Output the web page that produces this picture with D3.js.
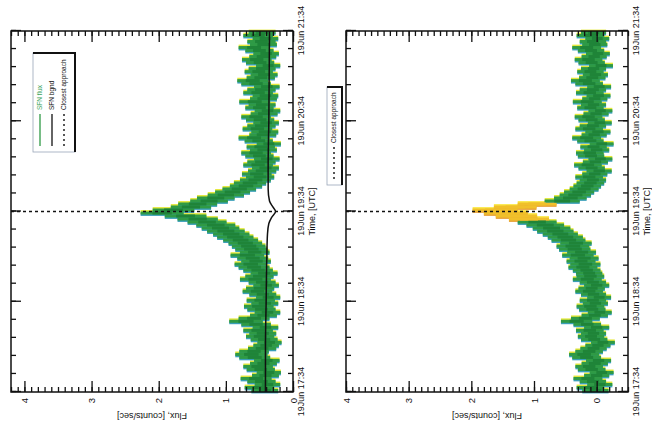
<!DOCTYPE html>
<html>
<head>
<meta charset="utf-8">
<script src="https://cdn.jsdelivr.net/npm/d3@7"></script>
<style>
  html, body { margin: 0; padding: 0; background: #fff; }
  svg { display: block; font-family: "Liberation Sans", Arial, Helvetica, sans-serif; }
</style>
</head>
<body>
<svg id="chart" width="652" height="430"></svg>
<script>
// ---- Data: SFN count rate, 2-minute bins from 19 Jun 17:34 UTC ----
const binMinutes = 2;
const timeTickMinutes = [0, 60, 120, 180, 240];
const timeTickLabels = ["19Jun 17:34", "19Jun 18:34", "19Jun 19:34", "19Jun 20:34", "19Jun 21:34"];
const fluxTickValues = [0, 1, 2, 3, 4];
const fluxTickLabels = ["0", "1", "2", "3", "4"];
const closestApproachMinute = 120;

// Raw SFN flux (counts/sec) and 1-sigma errors
const sfnFlux = [
  0.42, 0.50, 0.38, 0.47, 0.55, 0.41, 0.36, 0.48, 0.52, 0.44,
  0.39, 0.57, 0.62, 0.58, 0.46, 0.40, 0.35, 0.43, 0.49, 0.45,
  0.52, 0.41, 0.55, 0.70, 0.58, 0.44, 0.38, 0.47, 0.51, 0.42,
  0.48, 0.37, 0.45, 0.53, 0.49, 0.40, 0.46, 0.56, 0.50, 0.43,
  0.52, 0.58, 0.63, 0.55, 0.60, 0.68, 0.57, 0.62, 0.66, 0.71,
  0.78, 0.86, 0.92, 1.00, 1.08, 1.15, 1.28, 1.42, 1.60, 1.95,
  1.78, 1.52, 1.42, 1.25, 1.15, 1.00, 0.90, 0.80, 0.70, 0.64,
  0.56, 0.49, 0.54, 0.46, 0.41, 0.52, 0.47, 0.39, 0.50, 0.55,
  0.44, 0.48, 0.36, 0.51, 0.58, 0.45, 0.42, 0.53, 0.47, 0.40,
  0.49, 0.55, 0.43, 0.38, 0.50, 0.46, 0.57, 0.44, 0.41, 0.52,
  0.47, 0.39, 0.55, 0.60, 0.48, 0.43, 0.51, 0.46, 0.37, 0.49,
  0.54, 0.45, 0.40, 0.50, 0.58, 0.44, 0.47, 0.41, 0.52, 0.46
];
const sfnFluxErr = [
  0.20, 0.22, 0.19, 0.21, 0.23, 0.20, 0.18, 0.21, 0.22, 0.20,
  0.19, 0.23, 0.24, 0.22, 0.21, 0.19, 0.18, 0.20, 0.21, 0.20,
  0.22, 0.19, 0.22, 0.25, 0.23, 0.20, 0.19, 0.21, 0.22, 0.20,
  0.21, 0.18, 0.20, 0.22, 0.21, 0.19, 0.20, 0.23, 0.21, 0.20,
  0.22, 0.23, 0.24, 0.22, 0.23, 0.25, 0.22, 0.24, 0.25, 0.25,
  0.26, 0.27, 0.27, 0.28, 0.28, 0.29, 0.29, 0.30, 0.31, 0.32,
  0.31, 0.30, 0.29, 0.28, 0.28, 0.27, 0.26, 0.25, 0.24, 0.24,
  0.23, 0.21, 0.22, 0.21, 0.20, 0.22, 0.21, 0.19, 0.21, 0.22,
  0.20, 0.21, 0.18, 0.21, 0.23, 0.20, 0.20, 0.22, 0.21, 0.19,
  0.21, 0.22, 0.20, 0.19, 0.21, 0.20, 0.23, 0.20, 0.19, 0.22,
  0.21, 0.19, 0.22, 0.23, 0.21, 0.20, 0.21, 0.20, 0.18, 0.21,
  0.22, 0.20, 0.19, 0.21, 0.23, 0.20, 0.21, 0.19, 0.22, 0.20
];

// Modelled SFN background (counts/sec) at selected minutes
const sfnBgndMinute = [0, 30, 60, 90, 105, 112, 116, 120, 123, 127, 135, 150, 180, 240];
const sfnBgnd = [0.41, 0.41, 0.40, 0.39, 0.38, 0.36, 0.32, 0.26, 0.30, 0.35, 0.37, 0.37, 0.36, 0.35];

// Background-subtracted SFN flux (counts/sec) and errors
const netFlux = [
  0.02, 0.10, -0.05, 0.06, 0.14, 0.00, -0.08, 0.08, 0.12, 0.03,
  -0.03, 0.16, 0.20, 0.12, 0.05, -0.02, -0.10, 0.04, 0.09, 0.05,
  0.11, 0.00, 0.15, 0.32, 0.18, 0.03, -0.05, 0.07, 0.10, 0.02,
  0.06, -0.04, 0.05, 0.12, 0.08, 0.00, 0.06, 0.15, 0.10, 0.12,
  0.16, 0.22, 0.18, 0.25, 0.20, 0.30, 0.24, 0.35, 0.38, 0.33,
  0.45, 0.50, 0.58, 0.66, 0.72, 0.82, 0.95, 1.08, 1.28, 1.45,
  1.62, 1.30, 0.95, 0.55, 0.42, 0.34, 0.28, 0.20, 0.15, 0.10,
  0.06, 0.12, 0.03, -0.04, 0.08, 0.14, 0.02, -0.06, 0.09, 0.11,
  0.00, 0.05, -0.08, 0.10, 0.16, 0.04, -0.02, 0.12, 0.06, -0.05,
  0.08, 0.13, 0.01, -0.06, 0.10, 0.05, 0.15, 0.03, -0.03, 0.11,
  0.06, -0.04, 0.12, 0.18, 0.07, 0.02, 0.10, 0.05, -0.07, 0.08,
  0.13, 0.04, -0.02, 0.09, 0.16, 0.03, 0.06, -0.01, 0.10, 0.05
];
const netFluxErr = [
  0.21, 0.22, 0.20, 0.21, 0.23, 0.20, 0.19, 0.22, 0.22, 0.21,
  0.20, 0.23, 0.24, 0.22, 0.21, 0.20, 0.19, 0.21, 0.21, 0.20,
  0.22, 0.20, 0.22, 0.25, 0.23, 0.21, 0.19, 0.21, 0.22, 0.20,
  0.21, 0.19, 0.20, 0.22, 0.21, 0.20, 0.21, 0.23, 0.22, 0.21,
  0.22, 0.23, 0.24, 0.23, 0.23, 0.25, 0.23, 0.25, 0.26, 0.25,
  0.27, 0.28, 0.28, 0.29, 0.30, 0.30, 0.31, 0.32, 0.33, 0.35,
  0.36, 0.34, 0.31, 0.28, 0.26, 0.25, 0.24, 0.23, 0.22, 0.22,
  0.21, 0.22, 0.20, 0.20, 0.21, 0.22, 0.20, 0.19, 0.21, 0.22,
  0.20, 0.21, 0.19, 0.21, 0.23, 0.20, 0.20, 0.22, 0.21, 0.19,
  0.21, 0.22, 0.20, 0.19, 0.21, 0.20, 0.23, 0.20, 0.19, 0.22,
  0.21, 0.19, 0.22, 0.23, 0.21, 0.20, 0.21, 0.20, 0.19, 0.21,
  0.22, 0.20, 0.19, 0.21, 0.23, 0.20, 0.21, 0.19, 0.22, 0.20
];
// Net-flux bins around closest approach (minutes) drawn in gold
const peakWindowMinutes = [114, 126];

// ---- Layout ----
const svg = d3.select("#chart");
const plotTop = 31, plotBottom = 392;
const timeLen = plotBottom - plotTop;

const colors = {
  green: "#2f9a45", greenDark: "#1f8438",
  fringeA: "#e4e83a", fringeB: "#3a9fb8",
  gold: "#f0c02a", goldA: "#fbe94a", goldB: "#e8a23a"
};

function drawPanel(cfg) {
  const fluxLen = cfg.right - cfg.left;
  // Whole panel is drawn with time along the local x axis, then turned a quarter turn
  const g = svg.append("g")
    .attr("transform", `translate(${cfg.left},${plotBottom}) rotate(-90)`);

  const x = d3.scaleLinear().domain([0, 240]).range([0, timeLen]);
  const y = d3.scaleLinear().domain(cfg.fluxDomain).range([fluxLen, 0]);

  const bins = cfg.values.map((v, i) => ({
    t0: i * binMinutes, t1: (i + 1) * binMinutes, v, e: cfg.errors[i]
  }));
  const inPeak = d => cfg.peakWindow && d.t0 >= cfg.peakWindow[0] && d.t1 <= cfg.peakWindow[1];

  const bars = g.append("g");
  const layer = (cls, dx, scaleE, fillFn) => {
    bars.selectAll("rect." + cls).data(bins).join("rect")
      .attr("class", cls)
      .attr("x", d => x(d.t0) + dx)
      .attr("width", d => x(d.t1) - x(d.t0))
      .attr("y", d => y(d.v + d.e * scaleE))
      .attr("height", d => y(d.v - d.e * scaleE) - y(d.v + d.e * scaleE))
      .attr("fill", fillFn);
  };
  layer("fa", 1.4, 1.0, d => inPeak(d) ? colors.goldA : colors.fringeA);
  layer("fb", -1.4, 1.0, d => inPeak(d) ? colors.goldB : colors.fringeB);
  layer("core", 0, 1.0, d => inPeak(d) ? colors.gold : colors.green);
  layer("inner", 0, 0.45, d => inPeak(d) ? colors.gold : colors.greenDark);

  // background model
  if (cfg.bgnd) {
    const line = d3.line()
      .x((d, i) => x(sfnBgndMinute[i]))
      .y(d => y(d))
      .curve(d3.curveMonotoneX);
    g.append("path").datum(sfnBgnd)
      .attr("d", line).attr("fill", "none")
      .attr("stroke", "#111").attr("stroke-width", 1.5);
  }

  // closest approach marker
  g.append("line")
    .attr("x1", x(closestApproachMinute)).attr("x2", x(closestApproachMinute))
    .attr("y1", 0).attr("y2", fluxLen)
    .attr("stroke", "#111").attr("stroke-width", 1.6)
    .attr("stroke-dasharray", "3,3");

  // ---- axes ----
  const minorTime = d3.range(0, 241, 12);
  const minorFlux = d3.range(Math.round(cfg.fluxDomain[0] * 10), Math.round(cfg.fluxDomain[1] * 10) + 1).map(k => k / 10);

  const styleAxis = sel => {
    sel.select(".domain").remove();
    sel.selectAll("line").attr("stroke", "#111").attr("stroke-width", 1.3);
  };

  // time axis along the zero-flux edge (with labels) and the opposite edge
  g.append("g").attr("transform", `translate(0,${fluxLen})`)
    .call(d3.axisBottom(x).tickValues(minorTime).tickSize(-5).tickFormat(""))
    .call(styleAxis);
  const tAxis = g.append("g").attr("transform", `translate(0,${fluxLen})`)
    .call(d3.axisBottom(x).tickValues(timeTickMinutes).tickSize(-10).tickPadding(5)
      .tickFormat((d, i) => timeTickLabels[i]))
    .call(styleAxis);
  tAxis.selectAll("text").attr("font-size", 9).attr("fill", "#111").attr("font-family", null);

  g.append("g")
    .call(d3.axisTop(x).tickValues(minorTime).tickSize(-5).tickFormat(""))
    .call(styleAxis);
  g.append("g")
    .call(d3.axisTop(x).tickValues(timeTickMinutes).tickSize(-10).tickFormat(""))
    .call(styleAxis);

  // flux axis along the start-time edge (with labels) and the end-time edge
  g.append("g")
    .call(d3.axisLeft(y).tickValues(minorFlux).tickSize(-5).tickFormat(""))
    .call(styleAxis);
  const fAxis = g.append("g")
    .call(d3.axisLeft(y).tickValues(fluxTickValues).tickSize(-11).tickPadding(6)
      .tickFormat((d, i) => fluxTickLabels[i]))
    .call(styleAxis);
  fAxis.selectAll("text").attr("font-size", 9.5).attr("fill", "#111").attr("font-family", null);

  g.append("g").attr("transform", `translate(${timeLen},0)`)
    .call(d3.axisRight(y).tickValues(minorFlux).tickSize(-5).tickFormat(""))
    .call(styleAxis);
  g.append("g").attr("transform", `translate(${timeLen},0)`)
    .call(d3.axisRight(y).tickValues(fluxTickValues).tickSize(-11).tickFormat(""))
    .call(styleAxis);

  // frame
  g.append("rect")
    .attr("x", 0).attr("y", 0).attr("width", timeLen).attr("height", fluxLen)
    .attr("fill", "none").attr("stroke", "#111").attr("stroke-width", 1.5);

  // axis titles
  g.append("text")
    .attr("x", x(closestApproachMinute)).attr("y", fluxLen + 22)
    .attr("text-anchor", "middle").attr("font-size", 9).attr("fill", "#111")
    .text("Time, [UTC]");
  g.append("text")
    .attr("transform", `translate(-21,${fluxLen / 2}) rotate(-90)`)
    .attr("text-anchor", "middle").attr("font-size", 9).attr("fill", "#111")
    .text("Flux, [counts/sec]");

  // legend box with drop shadow
  const lg = cfg.legend;
  const box = g.append("g");
  box.append("rect")
    .attr("x", lg.x0).attr("y", lg.y0)
    .attr("width", lg.x1 - lg.x0).attr("height", lg.y1 - lg.y0)
    .attr("fill", "#fff").attr("stroke", "#9aa6b8").attr("stroke-width", 0.8);
  box.append("path")
    .attr("d", `M${lg.x0},${lg.y1} L${lg.x1},${lg.y1} L${lg.x1},${lg.y0}`)
    .attr("fill", "none").attr("stroke", "#111").attr("stroke-width", 2);

  lg.entries.forEach(en => {
    box.append("line")
      .attr("x1", lg.lineStart).attr("x2", lg.lineStart + 32)
      .attr("y1", en.row).attr("y2", en.row)
      .attr("stroke", en.stroke).attr("stroke-width", en.dash ? 1.4 : 1.3)
      .attr("stroke-dasharray", en.dash ? "2,3" : null);
    box.append("text")
      .attr("x", lg.lineStart + 36).attr("y", en.row).attr("dy", "0.35em")
      .attr("font-size", 6.5).attr("fill", en.textColor)
      .text(en.label);
  });
}

drawPanel({
  left: 11, right: 293,
  fluxDomain: [0, 4.2],
  values: sfnFlux, errors: sfnFluxErr,
  bgnd: true, peakWindow: null,
  legend: {
    x0: 240, x1: 339, y0: 22, y1: 64, lineStart: 246,
    entries: [
      { label: "SFN flux", row: 29, stroke: colors.green, textColor: "#3aa35a" },
      { label: "SFN bgnd", row: 41, stroke: "#111", textColor: "#111" },
      { label: "Closest approach", row: 53, stroke: "#111", textColor: "#111", dash: true }
    ]
  }
});

drawPanel({
  left: 346, right: 628,
  fluxDomain: [-0.5, 4.0],
  values: netFlux, errors: netFluxErr,
  bgnd: false, peakWindow: peakWindowMinutes,
  legend: {
    x0: 207, x1: 305, y0: -19, y1: -4, lineStart: 213,
    entries: [
      { label: "Closest approach", row: -12, stroke: "#111", textColor: "#111", dash: true }
    ]
  }
});
</script>
</body>
</html>
